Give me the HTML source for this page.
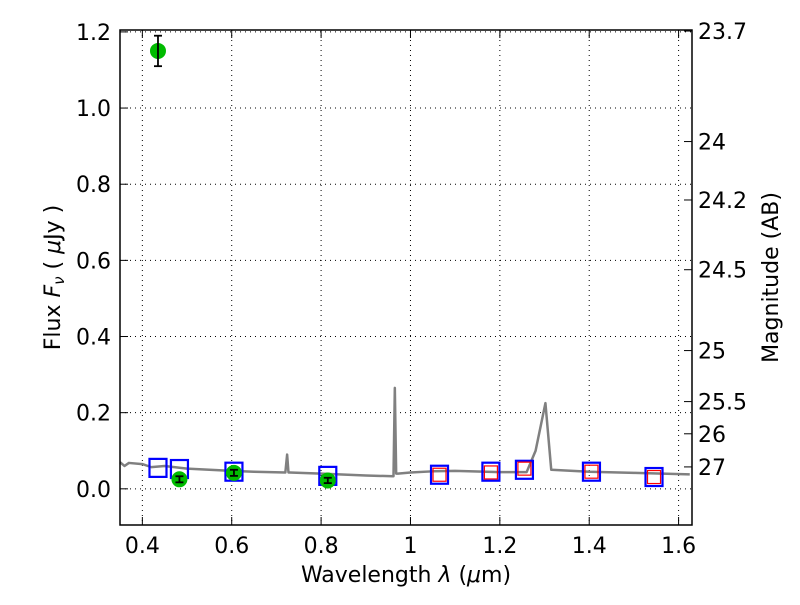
<!DOCTYPE html>
<html><head><meta charset="utf-8"><style>
body{margin:0;background:#fff;}
svg text{font-family:"DejaVu Sans","Liberation Sans",sans-serif;}
</style></head><body>
<svg id="c" width="800" height="600" xmlns="http://www.w3.org/2000/svg"></svg>
<script>
const xTicks=[0.4,0.6,0.8,1.0,1.2,1.4,1.6];
const xTickLabels=["0.4","0.6","0.8","1","1.2","1.4","1.6"];
const yTicks=[0.0,0.2,0.4,0.6,0.8,1.0,1.2];
const yTickLabels=["0.0","0.2","0.4","0.6","0.8","1.0","1.2"];
const magTicks=[23.7,24,24.2,24.5,25,25.5,26,27];
const magTickLabels=["23.7","24","24.2","24.5","25","25.5","26","27"];
const specX=[0.35,0.36,0.37,0.40,0.42,0.45,0.50,0.55,0.60,0.65,0.72,0.724,0.727,0.73,0.80,0.90,0.962,0.965,0.968,0.972,1.0,1.05,1.1,1.2,1.26,1.28,1.302,1.315,1.4,1.5,1.625];
const specY=[0.07,0.06,0.068,0.065,0.057,0.06,0.053,0.05,0.047,0.045,0.043,0.09,0.043,0.043,0.04,0.035,0.033,0.265,0.04,0.04,0.043,0.046,0.047,0.044,0.044,0.1,0.225,0.05,0.045,0.042,0.038];
const modelX=[0.435,0.483,0.605,0.815,1.065,1.18,1.255,1.405,1.545];
const modelY=[0.055,0.052,0.045,0.034,0.037,0.045,0.05,0.045,0.031];
const nirX=[1.065,1.18,1.255,1.405,1.545];
const nirY=[0.037,0.043,0.053,0.045,0.031];
const obsX=[0.435,0.483,0.605,0.815];
const obsY=[1.15,0.025,0.042,0.022];
const obsErr=[0.04,0.008,0.008,0.007];

const L=120,R=692,T=30,B=525,x0=0.35,x1=1.63,y0=-0.095,y1=1.205;
const sx=v=>L+(v-x0)/(x1-x0)*(R-L);
const sy=v=>B-(v-y0)/(y1-y0)*(B-T);
const svg=document.getElementById('c');
const NS="http://www.w3.org/2000/svg";
function mk(tag,attrs,name){const e=document.createElementNS(NS,tag);for(const k in attrs)e.setAttribute(k,attrs[k]);


svg.appendChild(e);return e;}
function txt(x,y,s,name,anchor,size){const e=mk('text',{x:x,y:y,'text-anchor':anchor||'middle','font-size':size||22,fill:'#000'},name);e.textContent=s;return e;}
xTicks.forEach((v,i)=>{mk('line',{x1:sx(v),x2:sx(v),y1:T,y2:B,stroke:'#000','stroke-width':1,'stroke-dasharray':'1,4'},'x-grid-line');
mk('line',{x1:sx(v),x2:sx(v),y1:B,y2:B-8,stroke:'#000'},'x-tick');mk('line',{x1:sx(v),x2:sx(v),y1:T,y2:T+8,stroke:'#000'},'x-tick-top');
txt(sx(v),B+28,xTickLabels[i],'x-tick-label');});
yTicks.forEach((v,i)=>{mk('line',{x1:L,x2:R,y1:sy(v),y2:sy(v),stroke:'#000','stroke-width':1,'stroke-dasharray':'1,4'},'y-grid-line');
mk('line',{x1:L,x2:L+8,y1:sy(v),y2:sy(v),stroke:'#000'},'y-tick');
txt(L-9,sy(v)+8,yTickLabels[i],'y-tick-label','end');});
magTicks.forEach((m,i)=>{const f=Math.pow(10,-0.4*(m-23.9));const y=sy(f);
mk('line',{x1:R-8,x2:R,y1:y,y2:y,stroke:'#000'},'mag-tick');
txt(R+6,y+8,magTickLabels[i],'mag-tick-label','start');});
mk('polyline',{points:specX.map((v,i)=>sx(v)+','+sy(specY[i])).join(' '),fill:'none',stroke:'#808080','stroke-width':2.5,'stroke-linejoin':'round'},'model-spectrum');
modelX.forEach((v,i)=>mk('rect',{x:sx(v)-8.5,y:sy(modelY[i])-9,width:17,height:18,fill:'none',stroke:'#0000ff','stroke-width':2.2},'model-photometry-square'));
nirX.forEach((v,i)=>mk('rect',{x:sx(v)-6.5,y:sy(nirY[i])-6.5,width:13,height:13,fill:'none',stroke:'#ff0000','stroke-width':1.2},'nir-photometry-square'));
obsX.forEach((v,i)=>{const cx=sx(v),cy=sy(obsY[i]);
mk('circle',{cx:cx,cy:cy,r:7.5,fill:'#00bb00',stroke:'#00bb00'},'observed-point');
const ya=sy(obsY[i]+obsErr[i]),yb=sy(obsY[i]-obsErr[i]);
mk('line',{x1:cx,x2:cx,y1:ya,y2:yb,stroke:'#000','stroke-width':1.8},'error-bar');
mk('line',{x1:cx-4,x2:cx+4,y1:ya,y2:ya,stroke:'#000','stroke-width':1.8},'error-cap');
mk('line',{x1:cx-4,x2:cx+4,y1:yb,y2:yb,stroke:'#000','stroke-width':1.8},'error-cap');});
mk('rect',{x:L,y:T,width:R-L,height:B-T,fill:'none',stroke:'#000','stroke-width':1.5},'plot-frame');
const xl=txt((L+R)/2,582,'','x-axis-title');xl.innerHTML='Wavelength  <tspan font-style="italic">λ</tspan> (<tspan font-style="italic">μ</tspan>m)';
const yl=txt(0,0,'','y-axis-title');yl.setAttribute('transform','translate(60,'+((T+B)/2)+') rotate(-90)');
yl.innerHTML='Flux  <tspan font-style="italic">F</tspan><tspan font-style="italic" font-size="15" dy="4">ν</tspan><tspan dy="-4">  ( </tspan><tspan font-style="italic">μ</tspan>Jy )';
const ml=txt(0,0,'Magnitude (AB)','mag-axis-title');ml.setAttribute('transform','translate(778,'+((T+B)/2)+') rotate(-90)');
</script>
</body></html>
